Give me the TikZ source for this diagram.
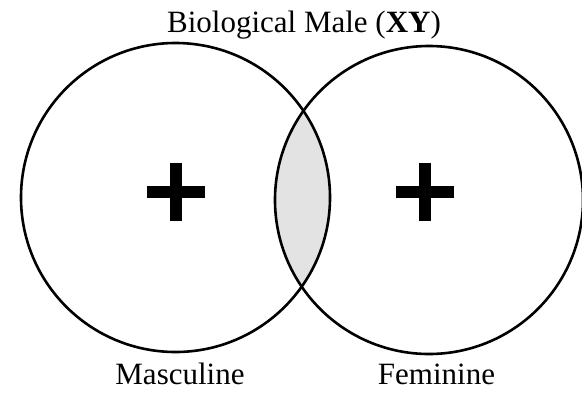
\documentclass[tikz,border=0pt]{standalone}
\usepackage{fontspec}
\setmainfont{Liberation Serif}
\usepackage{tikz}
\usetikzlibrary{positioning}

\begin{document}
\begin{tikzpicture}[x=1pt, y=-1pt,
  ring/.style={draw=black, line width=2.6pt},
  lens/.style={fill=black!11},
  plusbar/.style={line width=12pt, black},
  lbl/.style={font=\fontsize{31}{36}\selectfont, inner sep=0pt, anchor=base}]
\useasboundingbox (0,0) rectangle (582,392);

% the two sets
\coordinate (mc) at (175.5,197.5);
\coordinate (fc) at (429,200);
\begin{scope}
  \clip (mc) circle (154.5);
  \fill[lens] (fc) circle (154);
\end{scope}
\draw[ring] (mc) circle (154.5);
\draw[ring] (fc) circle (154);

% plus signs
\foreach \cx in {176,425}{%
  \draw[plusbar] (\cx-29,192) -- (\cx+29,192);
  \draw[plusbar] (\cx,163) -- (\cx,221);}

% labels
\node[lbl] (title) at (304,32) {Biological Male (\textbf{XY})};
\node[lbl] (masc) at (180,384) {Masculine};
\node[lbl] (fem) at (436.5,384) {Feminine};
\end{tikzpicture}
\end{document}
